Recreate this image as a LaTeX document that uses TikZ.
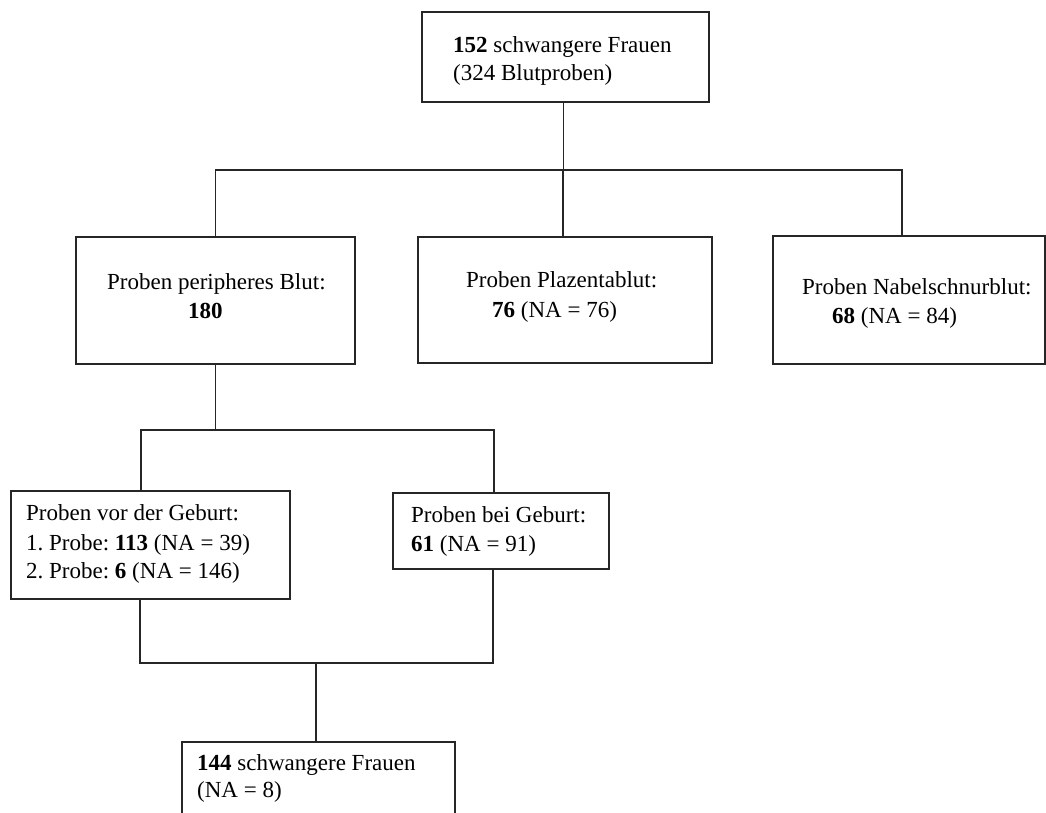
\documentclass[tikz,border=0pt]{standalone}
\usepackage{fontspec}
\setmainfont{Liberation Serif}
\frenchspacing
\begin{document}
\begin{tikzpicture}[x=1pt,y=-1pt,
  box/.style={draw=black!85,line width=1.3pt,rectangle,inner sep=0pt},
  txt/.style={anchor=base west,inner sep=0pt,font=\fontsize{23}{28}\selectfont},
  conn/.style={draw=black!85,line width=1.4pt}]
\useasboundingbox (0,0) rectangle (1046,812);
\clip (0,0) rectangle (1046,812);
% boxes
\node[box,minimum width=287pt,minimum height=90pt] (top) at (565.5,57) {};
\node[box,minimum width=279pt,minimum height=127pt] (b1) at (215.5,300.5) {};
\node[box,minimum width=294pt,minimum height=126pt] (b2) at (565,300) {};
\node[box,minimum width=272pt,minimum height=128pt] (b3) at (909,300) {};
\node[box,minimum width=279pt,minimum height=108pt] (b4) at (150.5,545) {};
\node[box,minimum width=216pt,minimum height=76pt] (b5) at (501,531) {};
\node[box,minimum width=273pt,minimum height=100pt] (b6) at (318.5,792) {};
% texts
\node[txt] (t1a) at (453,52) {\textbf{152} schwangere Frauen};
\node[txt] (t1b) at (453,80) {(324 Blutproben)};
\node[txt] (t2a) at (107,289) {Proben peripheres Blut:};
\node[txt] (t2b) at (188,318) {\textbf{180}};
\node[txt] (t3a) at (466,287) {Proben Plazentablut:};
\node[txt] (t3b) at (492,317) {\textbf{76} (NA = 76)};
\node[txt] (t4a) at (802,294) {Proben Nabelschnurblut:};
\node[txt] (t4b) at (832,323) {\textbf{68} (NA = 84)};
\node[txt] (t5a) at (26,520) {Proben vor der Geburt:};
\node[txt] (t5b) at (26,550) {1. Probe: \textbf{113} (NA = 39)};
\node[txt] (t5c) at (26,578) {2. Probe: \textbf{6} (NA = 146)};
\node[txt] (t6a) at (411,522) {Proben bei Geburt:};
\node[txt] (t6b) at (411,551) {\textbf{61} (NA = 91)};
\node[txt] (t7a) at (197,770) {\textbf{144} schwangere Frauen};
\node[txt] (t7b) at (197,797) {(NA = 8)};
% junction levels
\coordinate (h1) at (0,170);
\coordinate (h2) at (0,430);
\coordinate (h3) at (0,663);
% connectors
\draw[conn] ([xshift=-2pt]top.south) -- ([xshift=-2pt]top.south |- h1);
\draw[conn] (b1.north) -- (b1.north |- h1) -- ([xshift=-7pt]b3.north |- h1) -- ([xshift=-7pt]b3.north);
\draw[conn] ([xshift=-2pt]b2.north) -- ([xshift=-2pt]b2.north |- h1);
\draw[conn] (b1.south) -- (b1.south |- h2);
\draw[conn] ([xshift=-9.5pt]b4.north) -- ([xshift=-9.5pt]b4.north |- h2) -- ([xshift=-7pt]b5.north |- h2) -- ([xshift=-7pt]b5.north);
\draw[conn] ([xshift=-10.5pt]b4.south) -- ([xshift=-10.5pt]b4.south |- h3) -- ([xshift=-8pt]b5.south |- h3) -- ([xshift=-8pt]b5.south);
\draw[conn] ([xshift=-2.5pt]b6.north |- h3) -- ([xshift=-2.5pt]b6.north);
\end{tikzpicture}
\end{document}
